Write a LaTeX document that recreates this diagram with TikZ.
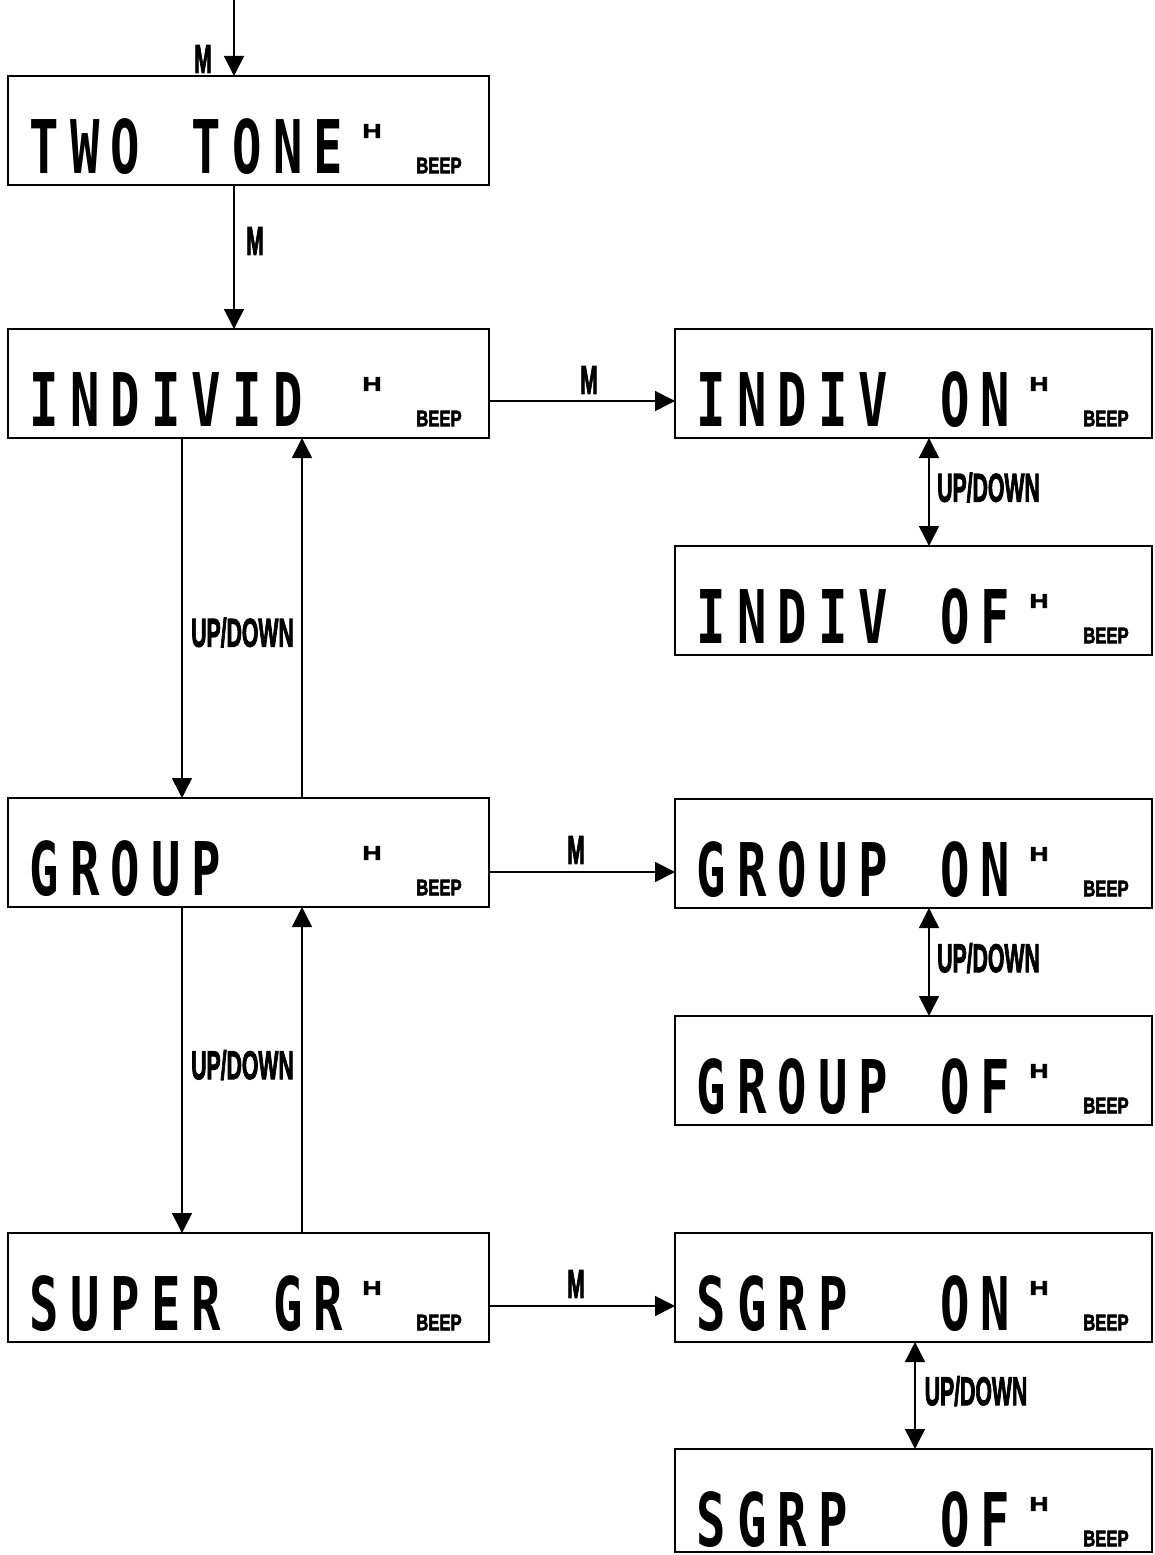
\documentclass[tikz,border=0pt]{standalone}
\usepackage{graphicx}
\usepackage{fontspec}
\setmainfont{Liberation Sans}
\newfontfamily\lcdfont{DejaVu Sans Mono}
\newfontfamily\lblfont{Liberation Sans}[BoldFeatures={FakeBold=3}]
\usetikzlibrary{arrows.meta}
\newcommand{\lbltext}[1]{\scalebox{0.53}[1]{\fontsize{40}{40}\selectfont\lblfont\bfseries #1}}
\ExplSyntaxOn
\NewDocumentCommand{\lcdtext}{m}
  {
    \fontsize{74}{74}\selectfont\lcdfont\bfseries
    \str_map_inline:nn {#1}
      {
        \str_if_eq:nnTF {##1} {_}
          { \makebox[40.6pt]{} }
          { \makebox[40.6pt][c]{\scalebox{0.66}[1]{##1}} }
      }
  }
\ExplSyntaxOff
\newcommand{\hmark}{\scalebox{1.3}[1]{\fontsize{20}{20}\selectfont\lblfont\bfseries H}}
\newcommand{\beeptext}{\scalebox{0.74}[1]{\fontsize{22.5}{22.5}\selectfont\lblfont\bfseries BEEP}}
\tikzset{
  lcdbox/.style={draw, line width=2pt, inner sep=0pt, outer sep=0pt, minimum height=109pt, anchor=north west},
  conn/.style={line width=1.5pt, -{Triangle[length=20pt,width=20pt]}},
  bothway/.style={line width=1.5pt, {Triangle[length=20pt,width=20pt]}-{Triangle[length=20pt,width=20pt]}},
  lbl/.style={inner sep=0pt}
}
\newcommand{\lcddisplay}[6]{%
  \node[lcdbox, minimum width=#4pt, minimum height=#5pt] (#1) at (#2,#3) {};
  \node[anchor=base west, inner sep=0pt] (#1-t) at ([shift={(15.7,97)}]#1.north west) {\lcdtext{#6}};
  \node[inner sep=0pt] (#1-h) at ([shift={(364,55)}]#1.north west) {\hmark};
  \node[inner sep=0pt] (#1-b) at ([shift={(431,89.5)}]#1.north west) {\beeptext};
}
\begin{document}
\begin{tikzpicture}[x=1pt,y=-1pt]
\useasboundingbox (0,0) rectangle (1155,1555);
% left column
\lcddisplay{b1}{8}{76}{481}{109}{TWO_TONE}
\lcddisplay{b2}{8}{329}{481}{109}{INDIVID}
\lcddisplay{b3}{8}{798}{481}{109}{GROUP}
\lcddisplay{b4}{8}{1233}{481}{109}{SUPER_GR}
% right column
\lcddisplay{r1}{675}{329}{477}{109}{INDIV_ON}
\lcddisplay{r2}{675}{546}{477}{109}{INDIV_OF}
\lcddisplay{r3}{675}{799}{477}{109}{GROUP_ON}
\lcddisplay{r4}{675}{1016}{477}{109}{GROUP_OF}
\lcddisplay{r5}{675}{1233}{477}{109}{SGRP__ON}
\lcddisplay{r6}{675}{1449}{477}{103}{SGRP__OF}
% entry arrow
\coordinate (entry) at (234,0);
\draw[conn] (entry) -- (entry |- b1.north);
\node[lbl] (m0) at (203,59) {\lbltext{M}};
% TWO TONE -> INDIVID
\draw[conn] ([xshift=226pt]b1.south west) -- ([xshift=226pt]b2.north west);
\node[lbl] (m1) at (255,241) {\lbltext{M}};
% INDIVID <-> GROUP
\draw[conn] ([xshift=174pt]b2.south west) -- ([xshift=174pt]b3.north west);
\draw[conn] ([xshift=294pt]b3.north west) -- ([xshift=294pt]b2.south west);
\node[lbl] (ud1) at (242.5,632.5) {\lbltext{UP/DOWN}};
% GROUP <-> SUPER GR
\draw[conn] ([xshift=174pt]b3.south west) -- ([xshift=174pt]b4.north west);
\draw[conn] ([xshift=294pt]b4.north west) -- ([xshift=294pt]b3.south west);
\node[lbl] (ud2) at (242.5,1065) {\lbltext{UP/DOWN}};
% horizontal M arrows
\draw[conn] ([yshift=-72pt]b2.north east) -- ([yshift=-72pt]b2.north east -| r1.west);
\node[lbl] (m2) at (589,380) {\lbltext{M}};
\draw[conn] ([yshift=-74pt]b3.north east) -- ([yshift=-74pt]b3.north east -| r3.west);
\node[lbl] (m3) at (576,850) {\lbltext{M}};
\draw[conn] ([yshift=-73pt]b4.north east) -- ([yshift=-73pt]b4.north east -| r5.west);
\node[lbl] (m4) at (576,1284) {\lbltext{M}};
% right double arrows
\draw[bothway] ([xshift=254pt]r1.south west) -- ([xshift=254pt]r2.north west);
\node[lbl] (ud3) at (988.5,487.5) {\lbltext{UP/DOWN}};
\draw[bothway] ([xshift=254pt]r3.south west) -- ([xshift=254pt]r4.north west);
\node[lbl] (ud4) at (988.5,958) {\lbltext{UP/DOWN}};
\draw[bothway] ([xshift=240pt]r5.south west) -- ([xshift=240pt]r6.north west);
\node[lbl] (ud5) at (976,1391) {\lbltext{UP/DOWN}};
\end{tikzpicture}
\end{document}
